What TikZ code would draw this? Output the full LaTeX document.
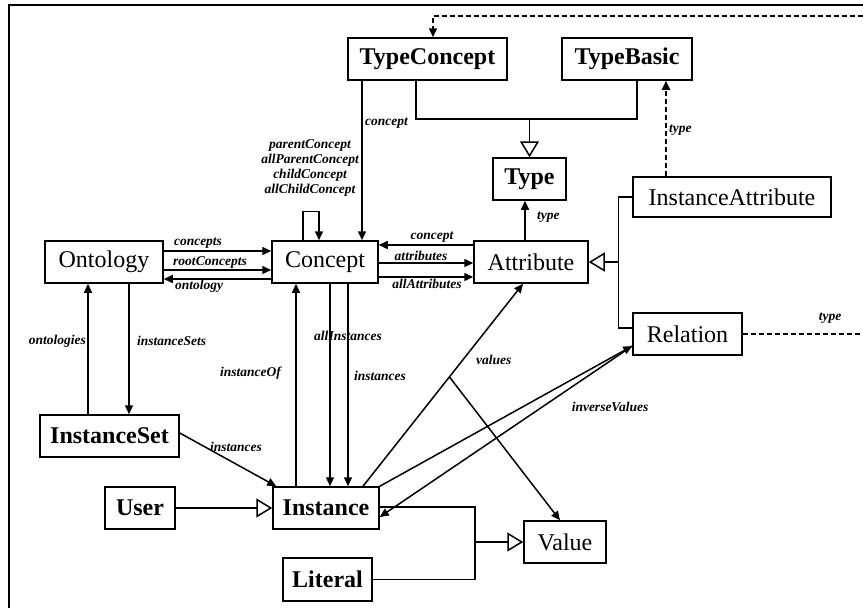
\documentclass[tikz,border=0pt]{standalone}
\usepackage{fontspec}
\setmainfont{Liberation Serif}
\usetikzlibrary{arrows.meta,calc}

\tikzset{
  box/.style={draw, line width=1.5pt, inner sep=0pt, minimum height=42pt,
              font=\fontsize{24}{26}\selectfont},
  boxb/.style={box, font=\fontsize{24}{26}\selectfont\bfseries},
  lbl/.style={inner sep=0pt, font=\fontsize{13.5}{15}\selectfont\bfseries\itshape},
  conn/.style={line width=1.5pt},
  arr/.style={conn, -{Triangle[length=9pt,width=8pt]}},
  gen/.style={conn, -{Triangle[open,length=16pt,width=19pt,line width=1.5pt]}},
  dasharr/.style={conn, dashed, dash pattern=on 5pt off 3pt, -{Triangle[length=9pt,width=8pt]}},
}

\begin{document}
\begin{tikzpicture}[x=1pt, y=-1pt]
\useasboundingbox (0,0) rectangle (863,608);
\clip (0,0) rectangle (863,608);
\fill[white] (0,0) rectangle (863,608);

% outer frame
\draw[line width=2pt] (9,620) -- (9,5) -- (880,5);

% classes
\node[boxb, minimum width=159pt] (TC)   at (427.5,59)  {TypeConcept};
\node[boxb, minimum width=130pt] (TB)   at (627,59)    {TypeBasic};
\node[boxb, minimum width=73pt]  (Type) at (529.5,179) {Type};
\node[box,  minimum width=198pt, minimum height=40pt] (IA) at (732,197) {InstanceAttribute};
\node[box,  minimum width=118pt] (Ont)  at (104,262)   {Ontology};
\node[box,  minimum width=106pt] (Con)  at (325,262)   {Concept};
\node[box,  minimum width=114pt] (Att)  at (531,262)   {Attribute};
\node[box,  minimum width=109pt] (Rel)  at (687.5,334) {Relation};
\node[boxb, minimum width=139pt] (ISet) at (109.5,436) {InstanceSet};
\node[boxb, minimum width=70pt]  (User) at (140,508)   {User};
\node[boxb, minimum width=106pt] (Inst) at (326,508)   {Instance};
\node[boxb, minimum width=89pt, minimum height=43pt] (Lit) at (327.5,579.5) {Literal};
\node[box,  minimum width=82pt]  (Val)  at (565,542)   {Value};

% TypeConcept and TypeBasic specialise Type
\draw[conn] ([xshift=-11.5pt]TC.south) -- ++(0,38) -| ([xshift=10pt]TB.south);
\coordinate (tj) at (529.5,118);
\draw[gen] (tj) -- (Type.north);

% TypeConcept -> Concept
\draw[arr] ([xshift=-65.5pt]TC.south) -- ([xshift=37pt]Con.north);
\node[lbl, anchor=west] at (365,123) {concept};

% self association of Concept
\draw[arr] ([xshift=-22pt]Con.north) -- ++(0,-29) -| ([xshift=-6pt]Con.north);
\node[lbl, align=center, font=\fontsize{13.5}{15}\selectfont\bfseries\itshape]
  at (310,168) {parentConcept\\allParentConcept\\childConcept\\allChildConcept};

% Ontology <-> Concept
\draw[arr] ([yshift=11pt]Ont.east) -- ([yshift=11pt]Con.west);
\node[lbl] at (198,243) {concepts};
\draw[arr] ([yshift=-8pt]Ont.east) -- ([yshift=-8pt]Con.west);
\node[lbl] at (210,262) {rootConcepts};
\draw[arr] ([yshift=-17pt]Con.west) -- ([yshift=-17pt]Ont.east);
\node[lbl] at (199,286) {ontology};

% Concept <-> Attribute
\draw[arr] ([yshift=17pt]Att.west) -- ([yshift=17pt]Con.east);
\node[lbl] at (432,237) {concept};
\draw[arr] ([yshift=-1pt]Con.east) -- ([yshift=-1pt]Att.west);
\node[lbl] at (421,256) {attributes};
\draw[arr] ([yshift=-15pt]Con.east) -- ([yshift=-15pt]Att.west);
\node[lbl] at (427,284) {allAttributes};

% Attribute -> Type
\draw[arr] ([xshift=-6pt]Att.north) -- ([xshift=-4.5pt]Type.south);
\node[lbl, anchor=west] at (537,217) {type};

% InstanceAttribute and Relation specialise Attribute
\draw[conn] (IA.west) -- ++(-14,0) |- ([yshift=6pt]Rel.west);
\coordinate (ag) at (619,262);
\draw[gen] (ag) -- (Att.east);

% InstanceAttribute -> TypeBasic
\draw[dasharr] ([xshift=-66pt]IA.north) -- ([xshift=39pt]TB.south);
\node[lbl, anchor=west] at (669,130) {type};

% Relation -> TypeConcept
\draw[dasharr] (Rel.east) -- (880,334) -- (880,16) -| ([xshift=5.5pt]TC.north);
\node[lbl] at (830,318) {type};

% Ontology <-> InstanceSet
\draw[arr] ([xshift=25pt]Ont.south) -- ([xshift=19.5pt]ISet.north);
\node[lbl, anchor=west] at (137,341) {instanceSets};
\draw[arr] ([xshift=-21.5pt]ISet.north) -- ([xshift=-16pt]Ont.south);
\node[lbl, anchor=east] at (86,341) {ontologies};

% Concept <-> Instance
\draw[arr] ([xshift=-30pt]Inst.north) -- ([xshift=-29pt]Con.south);
\node[lbl, anchor=east] at (281,373) {instanceOf};
\draw[arr] ([xshift=5pt]Con.south) -- ([xshift=4pt]Inst.north);
\node[lbl] at (348,336) {allInstances};
\draw[arr] ([xshift=23pt]Con.south) -- ([xshift=22pt]Inst.north);
\node[lbl, anchor=west] at (354,376) {instances};

% InstanceSet -> Instance
\draw[arr] ([yshift=3pt]ISet.east) -- ([xshift=4pt]Inst.north west);
\node[lbl] at (236,447) {instances};

% User specialises Instance
\draw[gen] (User.east) -- (Inst.west);

% Instance -> Attribute / Value
\coordinate (vs) at ([xshift=37pt]Inst.north);
\coordinate (ve) at ([xshift=-8pt]Att.south);
\coordinate (vb) at ($(vs)!0.54!(ve)$);
\draw[arr] (vs) -- (ve);
\draw[arr] (vb) -- ([xshift=-5pt]Val.north);
\node[lbl, anchor=west] at (476,360) {values};

% Instance <-> Relation
\draw[arr] (Inst.north east) -- ([yshift=-12pt]Rel.west);
\draw[arr] ([yshift=-12pt]Rel.west) -- ([yshift=-9pt]Inst.east);
\node[lbl] at (610,407) {inverseValues};

% Instance and Literal specialise Value
\coordinate (vj) at (475,542);
\draw[conn] ([yshift=1pt]Inst.east) -| (vj) |- (Lit.east);
\draw[gen] (vj) -- (Val.west);
\end{tikzpicture}
\end{document}
